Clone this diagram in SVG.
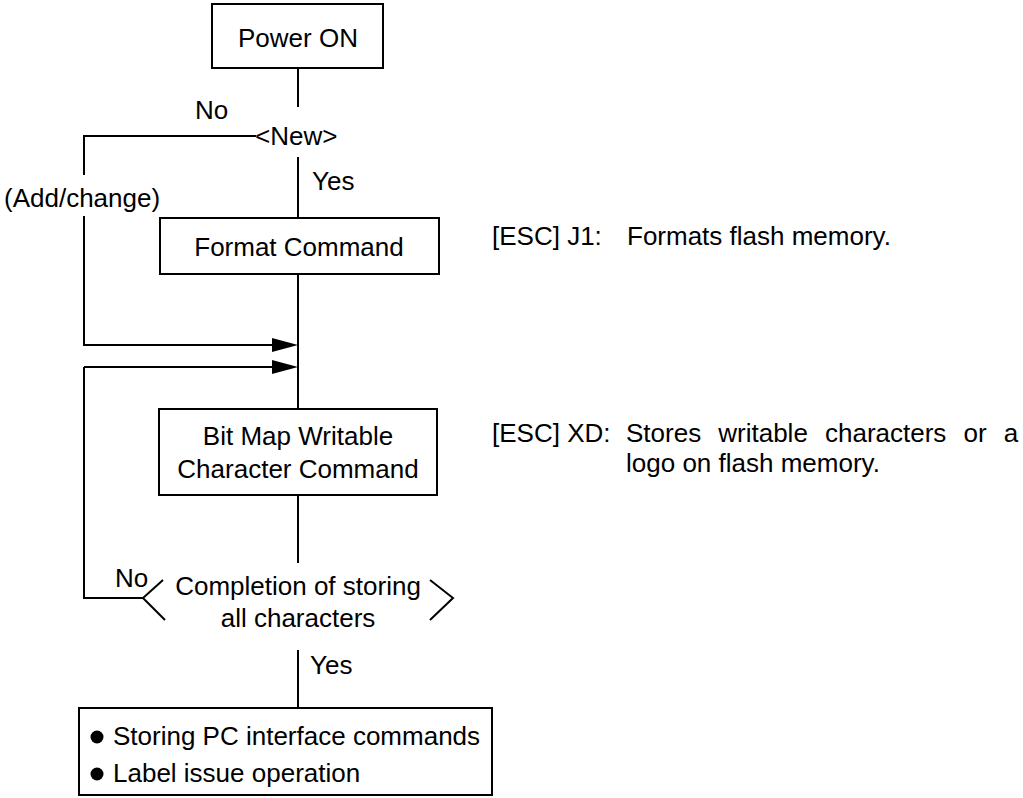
<svg xmlns="http://www.w3.org/2000/svg" width="1023" height="798" viewBox="0 0 1023 798">
<style>
text{font-family:"Liberation Sans",Arial,sans-serif;font-size:26px;fill:#000}
.c{text-anchor:middle}
.box{fill:#fff;stroke:#000;stroke-width:2}
.ln{fill:none;stroke:#000;stroke-width:2}
</style>
<rect width="1023" height="798" fill="#fff"/>
<g id="connectors">
<path class="ln" d="M298 69V107M298 157V218M256 136H84V175M84 216V345H274M298 274V409M298 495V563M84 367H274M84 367V598H143M298 650V708"/>
<polygon points="272,338 298,345 272,352"/>
<polygon points="272,360 298,367 272,374"/>
</g>
<g id="power-on">
<rect class="box" x="212" y="4" width="171" height="64"/>
<text class="c" x="298" y="47">Power ON</text>
</g>
<g id="new">
<text x="255" y="145">&lt;New&gt;</text>
<text x="195" y="119">No</text>
<text x="312" y="190">Yes</text>
<text x="4" y="207">(Add/change)</text>
</g>
<g id="format">
<rect class="box" x="160" y="218" width="279" height="56"/>
<text class="c" x="299" y="256">Format Command</text>
</g>
<g id="bitmap">
<rect class="box" x="159" y="409" width="278" height="86"/>
<text class="c" x="298" y="445">Bit Map Writable</text>
<text class="c" x="298" y="478">Character Command</text>
</g>
<g id="completion">
<path class="ln" d="M163 580L143 598L165 620M430 580L453 598L430 620"/>
<text class="c" x="298" y="595">Completion of storing</text>
<text class="c" x="298" y="627">all characters</text>
<text x="115" y="587">No</text>
<text x="310" y="674">Yes</text>
</g>
<g id="final">
<rect class="box" x="79" y="708" width="413" height="87"/>
<circle cx="97" cy="737" r="6.5"/>
<text x="113" y="745">Storing PC interface commands</text>
<circle cx="97" cy="774" r="6.5"/>
<text x="113" y="782">Label issue operation</text>
</g>
<g id="notes">
<text x="492" y="245">[ESC] J1:</text>
<text x="627" y="245">Formats flash memory.</text>
<text x="492" y="442">[ESC] XD:</text>
<text x="626" y="442" word-spacing="9.9">Stores writable characters or a</text>
<text x="626" y="472">logo on flash memory.</text>
</g>
</svg>
